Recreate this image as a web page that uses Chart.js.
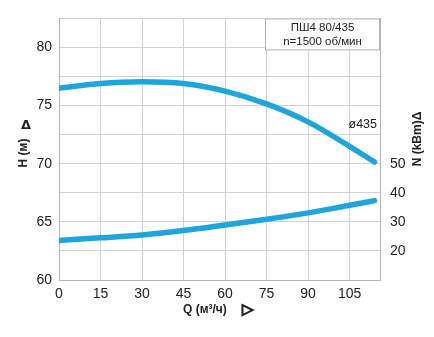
<!DOCTYPE html>
<html>
<head>
<meta charset="utf-8">
<script src="https://cdn.jsdelivr.net/npm/chart.js@4/dist/chart.umd.min.js"></script>
<style>
  html, body { margin: 0; padding: 0; background: #fff; }
  #wrap { width: 434px; height: 337px; position: relative; }
</style>
</head>
<body>
<div id="wrap"><canvas id="pumpChart"></canvas></div>
<script>
// Подача Q (м3/ч)
const flowValues = [0, 15, 30, 45, 60, 75, 90, 105, 114];
// Напор H (м), кривая ø435
const headValues = [76.5, 76.9, 77.05, 76.9, 76.25, 75.15, 73.6, 71.5, 70.15];
// Мощность N (кВт)
const powerValues = [23.6, 24.5, 25.5, 27.0, 28.9, 30.9, 33.1, 35.7, 37.3];

const leftTicks = [60, 65, 70, 75, 80];
const rightTicks = [20, 30, 40, 50];
const bottomTicks = [0, 15, 30, 45, 60, 75, 90, 105];

const titleLines = ['ПШ4 80/435', 'n=1500 об/мин'];
const curveLabel = 'ø435';

const lineColor = '#1ea6dc';
const gridColor = '#d2d2d2';
const frameColor = '#b4b4b4';
const textColor = '#222';
const fontFamily = '"Liberation Sans", Arial, sans-serif';

// Подписи осей, рамка с названием и подпись кривой
const annotations = {
  id: 'annotations',
  afterDraw(chart) {
    const ctx = chart.ctx;
    const area = chart.chartArea;
    ctx.save();

    // рамка с названием
    const boxLeft = 265;
    ctx.fillStyle = '#fff';
    ctx.fillRect(boxLeft, area.top, area.right - boxLeft, 31);
    ctx.strokeStyle = frameColor;
    ctx.lineWidth = 1;
    ctx.strokeRect(boxLeft + 0.5, area.top + 0.5, area.right - boxLeft - 1, 31);
    ctx.fillStyle = textColor;
    ctx.font = '11.5px ' + fontFamily;
    ctx.textAlign = 'center';
    ctx.textBaseline = 'middle';
    ctx.fillText(titleLines[0], (boxLeft + area.right) / 2, area.top + 9);
    ctx.fillText(titleLines[1], (boxLeft + area.right) / 2, area.top + 23);

    // подпись кривой
    ctx.font = '12.5px ' + fontFamily;
    ctx.textAlign = 'right';
    ctx.fillText(curveLabel, 377, 125);

    // ось Q
    ctx.strokeStyle = textColor;
    ctx.font = 'bold 12px ' + fontFamily;
    ctx.textAlign = 'left';
    ctx.fillText('Q (м³/ч)', 183, 310);
    ctx.font = 'bold 15px "DejaVu Sans", sans-serif';
    ctx.lineWidth = 1.2;
    ctx.fillText('▷', 242, 310);
    ctx.strokeText('▷', 242, 310);

    // ось H
    ctx.save();
    ctx.translate(24, 153);
    ctx.rotate(-Math.PI / 2);
    ctx.font = 'bold 12px ' + fontFamily;
    ctx.textAlign = 'center';
    ctx.fillText('H (м)', 0, 0);
    ctx.restore();
    ctx.font = 'bold 13px "DejaVu Sans", sans-serif';
    ctx.textAlign = 'center';
    ctx.fillText('Δ', 26, 126);

    // ось N
    ctx.save();
    ctx.translate(418, 139);
    ctx.rotate(-Math.PI / 2);
    ctx.font = 'bold 12px ' + fontFamily;
    ctx.textAlign = 'center';
    ctx.fillText('N (kBm)Δ', 0, 0);
    ctx.restore();

    ctx.restore();
  },
};

const tickFont = { family: fontFamily, size: 14 };

new Chart(document.getElementById('pumpChart'), {
  type: 'line',
  data: {
    datasets: [
      {
        label: 'H',
        data: flowValues.map((q, i) => ({ x: q, y: headValues[i] })),
        yAxisID: 'y',
        borderColor: lineColor,
        borderWidth: 5.5,
        borderCapStyle: 'round',
        pointRadius: 0,
        cubicInterpolationMode: 'monotone',
      },
      {
        label: 'N',
        data: flowValues.map((q, i) => ({ x: q, y: powerValues[i] })),
        yAxisID: 'y1',
        borderColor: lineColor,
        borderWidth: 5.5,
        borderCapStyle: 'round',
        pointRadius: 0,
        cubicInterpolationMode: 'monotone',
      },
    ],
  },
  options: {
    responsive: true,
    maintainAspectRatio: false,
    animation: false,
    layout: { padding: { top: 12, left: 0, right: 0, bottom: 0 } },
    plugins: { legend: { display: false }, tooltip: { enabled: false } },
    scales: {
      x: {
        type: 'linear',
        min: 0,
        max: 116,
        grid: { color: gridColor, drawTicks: false },
        border: { color: frameColor },
        ticks: {
          stepSize: 15,
          includeBounds: false,
          padding: 6,
          color: textColor,
          font: tickFont,
          callback: (v) => (bottomTicks.includes(v) ? String(v) : ''),
        },
        afterFit: (scale) => { scale.height = 57; },
      },
      y: {
        position: 'left',
        min: 60,
        max: 82.5,
        grid: { color: gridColor, drawTicks: false },
        border: { color: frameColor },
        ticks: {
          stepSize: 2.5,
          padding: 7,
          color: textColor,
          font: tickFont,
          callback: (v) => (leftTicks.includes(v) ? String(v) : ''),
        },
        afterFit: (scale) => { scale.width = 59; },
      },
      y1: {
        position: 'right',
        min: 10,
        max: 100,
        grid: { display: false, drawTicks: false },
        border: { color: frameColor },
        ticks: {
          stepSize: 10,
          padding: 10,
          color: textColor,
          font: tickFont,
          callback: (v) => (rightTicks.includes(v) ? String(v) : ''),
        },
        afterFit: (scale) => { scale.width = 54; },
      },
    },
  },
  plugins: [annotations],
});
</script>
</body>
</html>
